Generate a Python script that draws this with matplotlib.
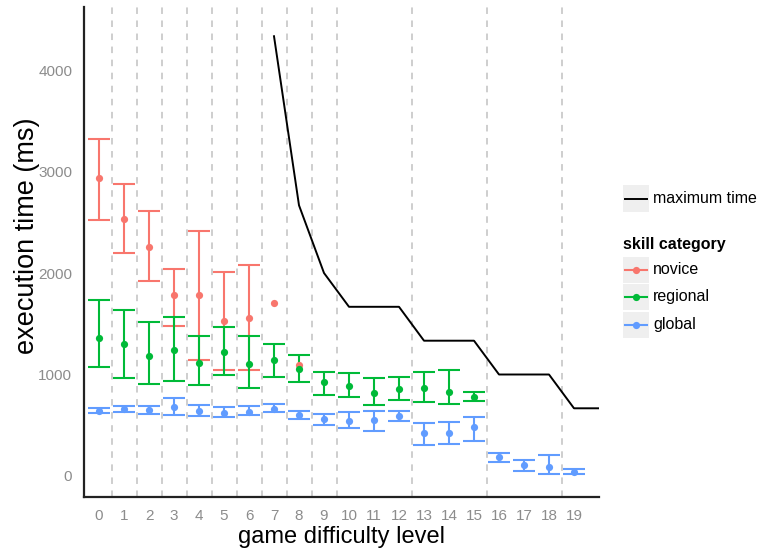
import matplotlib
matplotlib.use("Agg")
import matplotlib.pyplot as plt
from matplotlib.patches import Rectangle
from matplotlib.lines import Line2D
import numpy as np

plt.rcParams['font.family'] = ['Liberation Sans', 'DejaVu Sans']
plt.rcParams['lines.scale_dashes'] = False

# ---- data ----
levels = list(range(20))

novice_x = [0, 1, 2, 3, 4, 5, 6, 7, 8]
novice_mid = [2932, 2528, 2259, 1780, 1780, 1530, 1559, 1701, 1093]
novice_lo = [2522, 2194, 1924, 1477, 1143, 1044, 1044, None, None]
novice_hi = [3316, 2873, 2613, 2042, 2416, 2012, 2078, None, None]

regional_x = list(range(16))
regional_mid = [1362, 1297, 1185, 1238, 1116, 1218, 1106, 1140, 1051, 929, 890, 815, 860, 870, 830, 781]
regional_lo = [1071, 968, 909, 936, 899, 995, 870, 978, 929, 798, 781, 699, 749, 729, 709, 739]
regional_hi = [1734, 1635, 1514, 1569, 1382, 1471, 1379, 1303, 1192, 1027, 1011, 968, 978, 1024, 1044, 827]

global_x = list(range(20))
global_mid = [640, 660, 650, 677, 643, 623, 633, 663, 601, 561, 545, 549, 594, 421, 421, 480, 184, 105, 92, 42]
global_lo = [618, 633, 611, 601, 594, 584, 601, 627, 561, 502, 470, 446, 545, 302, 315, 348, 138, 52, 17, 17]
global_hi = [667, 692, 692, 771, 696, 683, 689, 706, 640, 611, 627, 637, 640, 519, 535, 584, 230, 158, 207, 72]

max_x = [7, 8, 9, 10, 11, 12, 13, 14, 15, 16, 17, 18, 19, 20]
max_time = [4333, 2667, 2000, 1667, 1667, 1667, 1333, 1333, 1333, 1000, 1000, 1000, 667, 667]

divider_x = [0.5, 1.5, 2.5, 3.5, 4.5, 5.5, 6.5, 7.5, 8.5, 9.5, 12.5, 15.5, 18.5]

y_ticks = [0, 1000, 2000, 3000, 4000]

series = [
    ("novice", "#F8766D", novice_x, novice_mid, novice_lo, novice_hi),
    ("regional", "#00BA38", regional_x, regional_mid, regional_lo, regional_hi),
    ("global", "#619CFF", global_x, global_mid, global_lo, global_hi),
]

# ---- figure ----
W, H = 761, 552
fig = plt.figure(figsize=(W / 100, H / 100), dpi=100)
L, R, T, B = 84, 599, 7, 497
ax = fig.add_axes([L / W, 1 - B / H, (R - L) / W, (B - T) / H])
ax.set_xlim(-0.6, 20.0)
ax.set_ylim(-207, 4621)

for xv in divider_x:
    ax.axvline(xv, color='#c6c6c6', lw=1.2, linestyle=(0, (4.7, 4.7)), zorder=0)

half = 0.45
for name, col, xs, mid, lo, hi in series:
    bx = [x for x, l in zip(xs, lo) if l is not None]
    blo = [l for l in lo if l is not None]
    bhi = [h for h in hi if h is not None]
    bx = np.array(bx, dtype=float)
    ax.vlines(bx, blo, bhi, color=col, lw=1.5, zorder=2)
    ax.hlines(blo, bx - half, bx + half, color=col, lw=1.5, zorder=2)
    ax.hlines(bhi, bx - half, bx + half, color=col, lw=1.5, zorder=2)
    ax.plot(xs, mid, 'o', color=col, ms=5.2, mew=0, zorder=3)

ax.plot(max_x, max_time, color='black', lw=1.4, zorder=4)

for s in ['top', 'right']:
    ax.spines[s].set_visible(False)
for s in ['left', 'bottom']:
    ax.spines[s].set_color('#222222')
    ax.spines[s].set_linewidth(1.6)

ax.set_xticks(levels)
ax.set_xticklabels([str(v) for v in levels])
ax.set_yticks(y_ticks)
ax.set_yticklabels([str(v) for v in y_ticks])
ax.tick_params(axis='both', length=0, labelcolor='#8c8c8c', labelsize=11)
ax.tick_params(axis='x', pad=9)
ax.tick_params(axis='y', pad=8.5)

ax.set_xlabel('game difficulty level', fontsize=17, color='black')
ax.set_ylabel('execution time (ms)', fontsize=19.5, color='black')
ax.xaxis.set_label_coords(0.5, (B - 537) / (B - T))
ax.yaxis.set_label_coords((27 - L) / (R - L), (B - 236) / (B - T))
ax.xaxis.label.set_va('center')
ax.yaxis.label.set_va('center')

# ---- legend (manual, figure pixel coords) ----
def fx(px):
    return px / W

def fy(py):
    return 1 - py / H

key_bg = '#efefef'
kx0, kx1 = 623, 649

def key_box(y0, y1):
    fig.patches.append(Rectangle((fx(kx0), fy(y1)), fx(kx1) - fx(kx0), fy(y0) - fy(y1),
                                 transform=fig.transFigure, facecolor=key_bg, edgecolor='none'))

key_box(185, 212)
fig.lines.append(Line2D([fx(625), fx(647)], [fy(198.5), fy(198.5)], transform=fig.transFigure,
                        color='black', lw=1.4))
fig.text(fx(653), fy(198.5), 'maximum time', fontsize=11.5, va='center', ha='left')

fig.text(fx(623), fy(245), 'skill category', fontsize=11.5, fontweight='bold', va='center', ha='left')

key_rows = [(257, 283), (284, 310), (312, 338)]
for (name, col, *_), (y0, y1) in zip(series, key_rows):
    key_box(y0, y1)
    yc = (y0 + y1) / 2
    fig.lines.append(Line2D([fx(625), fx(647)], [fy(yc), fy(yc)], transform=fig.transFigure,
                            color=col, lw=1.5))
    fig.lines.append(Line2D([fx(636)], [fy(yc)], transform=fig.transFigure, color=col,
                            marker='o', ms=5.2, mew=0, linestyle='none'))
    fig.text(fx(653), fy(yc), name, fontsize=11.5, va='center', ha='left')

fig.savefig('out.png', dpi=100)
